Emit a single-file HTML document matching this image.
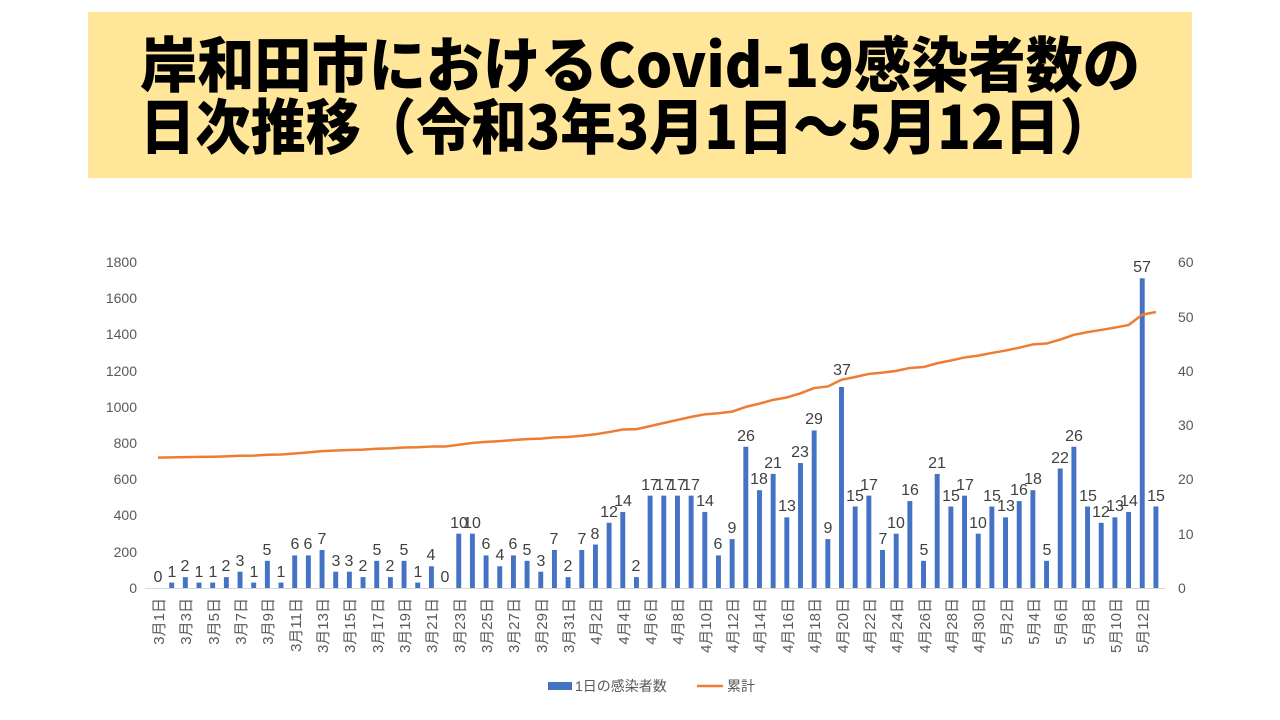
<!DOCTYPE html>
<html><head><meta charset="utf-8"><style>
html,body{margin:0;padding:0;background:#fff;width:1280px;height:720px;overflow:hidden}
svg{display:block}
.t{font-family:"Liberation Sans","Noto Sans CJK JP",sans-serif}
</style></head><body>
<svg width="1280" height="720" viewBox="0 0 1280 720" xmlns="http://www.w3.org/2000/svg">
<rect x="88" y="12" width="1104" height="166" fill="#FFE699"/>
<g font-family="'Noto Sans CJK JP',sans-serif" font-weight="900" font-size="60" fill="#000">
<text x="140" y="87" textLength="1000" lengthAdjust="spacingAndGlyphs">岸和田市におけるCovid-19感染者数の</text>
<text x="140" y="149" textLength="975" lengthAdjust="spacingAndGlyphs">日次推移（令和3年3月1日～5月12日）</text>
</g>
<line x1="145" y1="588.5" x2="1165" y2="588.5" stroke="#d9d9d9" stroke-width="1"/>
<g class="t" font-size="14" fill="#595959" text-anchor="end">
<text x="137" y="593">0</text><text x="137" y="557">200</text><text x="137" y="520">400</text><text x="137" y="484">600</text><text x="137" y="448">800</text><text x="137" y="412">1000</text><text x="137" y="376">1200</text><text x="137" y="339">1400</text><text x="137" y="303">1600</text><text x="137" y="267">1800</text>
</g>
<g class="t" font-size="14" fill="#595959">
<text x="1178" y="593">0</text><text x="1178" y="539">10</text><text x="1178" y="484">20</text><text x="1178" y="430">30</text><text x="1178" y="376">40</text><text x="1178" y="322">50</text><text x="1178" y="267">60</text>
</g>
<g transform="translate(158,588) scale(13.67,-5.433)" fill="#4472C4">
<rect x="0.82" y="0" width="0.36" height="1"/><rect x="1.82" y="0" width="0.36" height="2"/><rect x="2.82" y="0" width="0.36" height="1"/><rect x="3.82" y="0" width="0.36" height="1"/><rect x="4.82" y="0" width="0.36" height="2"/><rect x="5.82" y="0" width="0.36" height="3"/><rect x="6.82" y="0" width="0.36" height="1"/><rect x="7.82" y="0" width="0.36" height="5"/><rect x="8.82" y="0" width="0.36" height="1"/><rect x="9.82" y="0" width="0.36" height="6"/><rect x="10.82" y="0" width="0.36" height="6"/><rect x="11.82" y="0" width="0.36" height="7"/><rect x="12.82" y="0" width="0.36" height="3"/><rect x="13.82" y="0" width="0.36" height="3"/><rect x="14.82" y="0" width="0.36" height="2"/><rect x="15.82" y="0" width="0.36" height="5"/><rect x="16.82" y="0" width="0.36" height="2"/><rect x="17.82" y="0" width="0.36" height="5"/><rect x="18.82" y="0" width="0.36" height="1"/><rect x="19.82" y="0" width="0.36" height="4"/><rect x="21.82" y="0" width="0.36" height="10"/><rect x="22.82" y="0" width="0.36" height="10"/><rect x="23.82" y="0" width="0.36" height="6"/><rect x="24.82" y="0" width="0.36" height="4"/><rect x="25.82" y="0" width="0.36" height="6"/><rect x="26.82" y="0" width="0.36" height="5"/><rect x="27.82" y="0" width="0.36" height="3"/><rect x="28.82" y="0" width="0.36" height="7"/><rect x="29.82" y="0" width="0.36" height="2"/><rect x="30.82" y="0" width="0.36" height="7"/><rect x="31.82" y="0" width="0.36" height="8"/><rect x="32.82" y="0" width="0.36" height="12"/><rect x="33.82" y="0" width="0.36" height="14"/><rect x="34.82" y="0" width="0.36" height="2"/><rect x="35.82" y="0" width="0.36" height="17"/><rect x="36.82" y="0" width="0.36" height="17"/><rect x="37.82" y="0" width="0.36" height="17"/><rect x="38.82" y="0" width="0.36" height="17"/><rect x="39.82" y="0" width="0.36" height="14"/><rect x="40.82" y="0" width="0.36" height="6"/><rect x="41.82" y="0" width="0.36" height="9"/><rect x="42.82" y="0" width="0.36" height="26"/><rect x="43.82" y="0" width="0.36" height="18"/><rect x="44.82" y="0" width="0.36" height="21"/><rect x="45.82" y="0" width="0.36" height="13"/><rect x="46.82" y="0" width="0.36" height="23"/><rect x="47.82" y="0" width="0.36" height="29"/><rect x="48.82" y="0" width="0.36" height="9"/><rect x="49.82" y="0" width="0.36" height="37"/><rect x="50.82" y="0" width="0.36" height="15"/><rect x="51.82" y="0" width="0.36" height="17"/><rect x="52.82" y="0" width="0.36" height="7"/><rect x="53.82" y="0" width="0.36" height="10"/><rect x="54.82" y="0" width="0.36" height="16"/><rect x="55.82" y="0" width="0.36" height="5"/><rect x="56.82" y="0" width="0.36" height="21"/><rect x="57.82" y="0" width="0.36" height="15"/><rect x="58.82" y="0" width="0.36" height="17"/><rect x="59.82" y="0" width="0.36" height="10"/><rect x="60.82" y="0" width="0.36" height="15"/><rect x="61.82" y="0" width="0.36" height="13"/><rect x="62.82" y="0" width="0.36" height="16"/><rect x="63.82" y="0" width="0.36" height="18"/><rect x="64.82" y="0" width="0.36" height="5"/><rect x="65.82" y="0" width="0.36" height="22"/><rect x="66.82" y="0" width="0.36" height="26"/><rect x="67.82" y="0" width="0.36" height="15"/><rect x="68.82" y="0" width="0.36" height="12"/><rect x="69.82" y="0" width="0.36" height="13"/><rect x="70.82" y="0" width="0.36" height="14"/><rect x="71.82" y="0" width="0.36" height="57"/><rect x="72.82" y="0" width="0.36" height="15"/>
</g>
<g transform="translate(158,588) scale(13.67,-0.1811)">
<polyline fill="none" stroke="#ED7D31" stroke-width="2.5" vector-effect="non-scaling-stroke" stroke-linejoin="round" points="0,720 1,721 2,723 3,724 4,725 5,727 6,730 7,731 8,736 9,737 10,743 11,749 12,756 13,759 14,762 15,764 16,769 17,771 18,776 19,777 20,781 21,781 22,791 23,801 24,807 25,811 26,817 27,822 28,825 29,832 30,834 31,841 32,849 33,861 34,875 35,877 36,894 37,911 38,928 39,945 40,959 41,965 42,974 43,1000 44,1018 45,1039 46,1052 47,1075 48,1104 49,1113 50,1150 51,1165 52,1182 53,1189 54,1199 55,1215 56,1220 57,1241 58,1256 59,1273 60,1283 61,1298 62,1311 63,1327 64,1345 65,1350 66,1372 67,1398 68,1413 69,1425 70,1438 71,1452 72,1509 73,1524"/>
</g>
<g class="t" font-size="16" fill="#404040" text-anchor="middle">
<text x="158" y="582">0</text><text x="172" y="577">1</text><text x="185" y="571">2</text><text x="199" y="577">1</text><text x="213" y="577">1</text><text x="226" y="571">2</text><text x="240" y="566">3</text><text x="254" y="577">1</text><text x="267" y="555">5</text><text x="281" y="577">1</text><text x="295" y="549">6</text><text x="308" y="549">6</text><text x="322" y="544">7</text><text x="336" y="566">3</text><text x="349" y="566">3</text><text x="363" y="571">2</text><text x="377" y="555">5</text><text x="390" y="571">2</text><text x="404" y="555">5</text><text x="418" y="577">1</text><text x="431" y="560">4</text><text x="445" y="582">0</text><text x="459" y="528">10</text><text x="472" y="528">10</text><text x="486" y="549">6</text><text x="500" y="560">4</text><text x="513" y="549">6</text><text x="527" y="555">5</text><text x="541" y="566">3</text><text x="554" y="544">7</text><text x="568" y="571">2</text><text x="582" y="544">7</text><text x="595" y="539">8</text><text x="609" y="517">12</text><text x="623" y="506">14</text><text x="636" y="571">2</text><text x="650" y="490">17</text><text x="664" y="490">17</text><text x="677" y="490">17</text><text x="691" y="490">17</text><text x="705" y="506">14</text><text x="718" y="549">6</text><text x="732" y="533">9</text><text x="746" y="441">26</text><text x="759" y="484">18</text><text x="773" y="468">21</text><text x="787" y="511">13</text><text x="800" y="457">23</text><text x="814" y="424">29</text><text x="828" y="533">9</text><text x="842" y="375">37</text><text x="855" y="501">15</text><text x="869" y="490">17</text><text x="883" y="544">7</text><text x="896" y="528">10</text><text x="910" y="495">16</text><text x="924" y="555">5</text><text x="937" y="468">21</text><text x="951" y="501">15</text><text x="965" y="490">17</text><text x="978" y="528">10</text><text x="992" y="501">15</text><text x="1006" y="511">13</text><text x="1019" y="495">16</text><text x="1033" y="484">18</text><text x="1047" y="555">5</text><text x="1060" y="463">22</text><text x="1074" y="441">26</text><text x="1088" y="501">15</text><text x="1101" y="517">12</text><text x="1115" y="511">13</text><text x="1129" y="506">14</text><text x="1142" y="272">57</text><text x="1156" y="501">15</text>
</g>
<g class="t" font-size="15" fill="#595959" text-anchor="end">
<text transform="translate(164,598) rotate(-90)">3月1日</text><text transform="translate(191,598) rotate(-90)">3月3日</text><text transform="translate(219,598) rotate(-90)">3月5日</text><text transform="translate(246,598) rotate(-90)">3月7日</text><text transform="translate(273,598) rotate(-90)">3月9日</text><text transform="translate(301,598) rotate(-90)">3月11日</text><text transform="translate(328,598) rotate(-90)">3月13日</text><text transform="translate(355,598) rotate(-90)">3月15日</text><text transform="translate(383,598) rotate(-90)">3月17日</text><text transform="translate(410,598) rotate(-90)">3月19日</text><text transform="translate(437,598) rotate(-90)">3月21日</text><text transform="translate(465,598) rotate(-90)">3月23日</text><text transform="translate(492,598) rotate(-90)">3月25日</text><text transform="translate(519,598) rotate(-90)">3月27日</text><text transform="translate(547,598) rotate(-90)">3月29日</text><text transform="translate(574,598) rotate(-90)">3月31日</text><text transform="translate(601,598) rotate(-90)">4月2日</text><text transform="translate(629,598) rotate(-90)">4月4日</text><text transform="translate(656,598) rotate(-90)">4月6日</text><text transform="translate(683,598) rotate(-90)">4月8日</text><text transform="translate(711,598) rotate(-90)">4月10日</text><text transform="translate(738,598) rotate(-90)">4月12日</text><text transform="translate(765,598) rotate(-90)">4月14日</text><text transform="translate(793,598) rotate(-90)">4月16日</text><text transform="translate(820,598) rotate(-90)">4月18日</text><text transform="translate(848,598) rotate(-90)">4月20日</text><text transform="translate(875,598) rotate(-90)">4月22日</text><text transform="translate(902,598) rotate(-90)">4月24日</text><text transform="translate(930,598) rotate(-90)">4月26日</text><text transform="translate(957,598) rotate(-90)">4月28日</text><text transform="translate(984,598) rotate(-90)">4月30日</text><text transform="translate(1012,598) rotate(-90)">5月2日</text><text transform="translate(1039,598) rotate(-90)">5月4日</text><text transform="translate(1066,598) rotate(-90)">5月6日</text><text transform="translate(1094,598) rotate(-90)">5月8日</text><text transform="translate(1121,598) rotate(-90)">5月10日</text><text transform="translate(1148,598) rotate(-90)">5月12日</text>
</g>
<rect x="548" y="682" width="24" height="8" fill="#4472C4"/>
<text class="t" x="575" y="691" font-size="14" fill="#595959">1日の感染者数</text>
<line x1="697" y1="686" x2="723" y2="686" stroke="#ED7D31" stroke-width="2.5"/>
<text class="t" x="727" y="691" font-size="14" fill="#595959">累計</text>
</svg>
</body></html>
